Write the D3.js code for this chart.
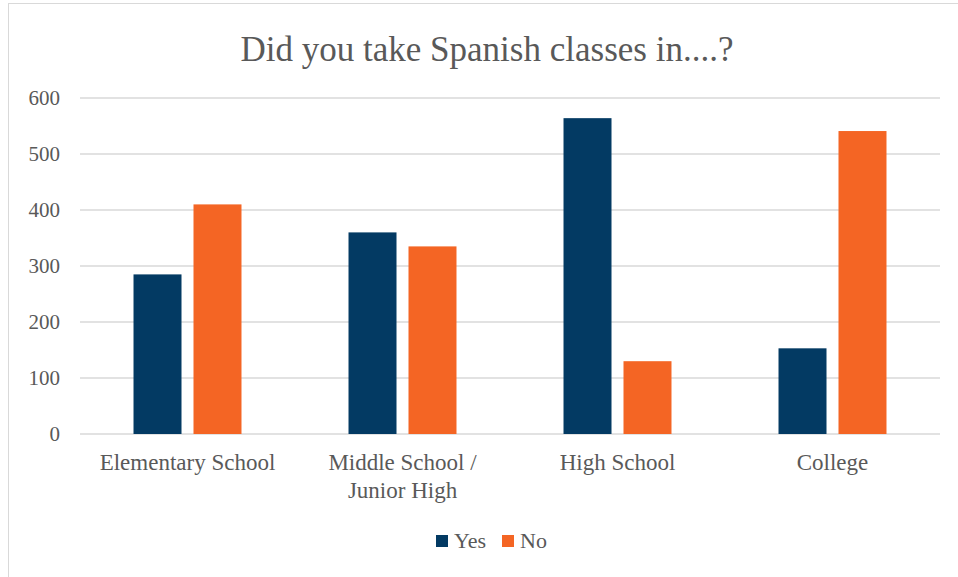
<!DOCTYPE html>
<html>
<head>
<meta charset="utf-8">
<script src="https://cdn.jsdelivr.net/npm/d3@7"></script>
<style>
  body { margin: 0; background: #fff; }
  text { font-family: "Liberation Serif", "Times New Roman", serif; fill: #595959; }
</style>
</head>
<body>
<div id="chart"></div>
<script>
// Data
const categories = ["Elementary School", "Middle School / Junior High", "High School", "College"];
const seriesNames = ["Yes", "No"];
const yesValues = [285, 360, 564, 153];
const noValues = [410, 335, 130, 541];
const yTicks = [0, 100, 200, 300, 400, 500, 600];
const colors = ["#033a63", "#f46524"];

const W = 958, H = 577;
const plot = { left: 80, right: 940, top: 98, bottom: 434 };

const svg = d3.select("#chart")
  .append("svg")
  .attr("width", W)
  .attr("height", H);

// outer chart border
svg.append("rect")
  .attr("x", 8.5).attr("y", 3.5)
  .attr("width", 960).attr("height", 600)
  .attr("fill", "none")
  .attr("stroke", "#d9d9d9");

// Title
svg.append("text")
  .attr("x", 487)
  .attr("y", 61)
  .attr("text-anchor", "middle")
  .style("font-size", "35px")
  .text("Did you take Spanish classes in....?");

const x0 = d3.scaleBand()
  .domain(categories)
  .range([plot.left, plot.right]);

const x1 = d3.scaleBand()
  .domain(seriesNames)
  .range([0, x0.bandwidth()])
  .paddingInner(0.2)
  .paddingOuter(0.892);

const y = d3.scaleLinear()
  .domain([0, 600])
  .range([plot.bottom, plot.top]);

// Gridlines
svg.append("g")
  .selectAll("line")
  .data(yTicks)
  .join("line")
  .attr("x1", plot.left).attr("x2", plot.right)
  .attr("y1", d => y(d)).attr("y2", d => y(d))
  .attr("stroke", "#d9d9d9")
  .attr("stroke-width", 1.3);

// Y axis labels
const yAxis = svg.append("g")
  .attr("transform", `translate(${plot.left},0)`)
  .call(d3.axisLeft(y).tickValues(yTicks).tickSize(0).tickPadding(20));
yAxis.select(".domain").remove();
yAxis.selectAll("text")
  .style("font-size", "21px")
  .attr("fill", "#595959");

// Bars
const rows = categories.map((c, i) => ({ cat: c, values: [yesValues[i], noValues[i]] }));

svg.append("g")
  .selectAll("g")
  .data(rows)
  .join("g")
  .attr("transform", d => `translate(${x0(d.cat)},0)`)
  .selectAll("rect")
  .data(d => d.values.map((v, j) => ({ key: seriesNames[j], value: v, j })))
  .join("rect")
  .attr("x", d => x1(d.key))
  .attr("y", d => y(d.value))
  .attr("width", x1.bandwidth())
  .attr("height", d => y(0) - y(d.value))
  .attr("fill", d => colors[d.j]);

// X axis labels (wrapped)
function wrapLabel(textSel, width) {
  textSel.each(function() {
    const t = d3.select(this);
    const words = t.text().split(/\s+/);
    t.text(null);
    let line = [];
    let tspan = t.append("tspan").attr("x", t.attr("x")).attr("dy", 0);
    words.forEach(w => {
      line.push(w);
      tspan.text(line.join(" "));
      if (tspan.node().getComputedTextLength() > width && line.length > 1) {
        line.pop();
        tspan.text(line.join(" "));
        line = [w];
        tspan = t.append("tspan").attr("x", t.attr("x")).attr("dy", "1.2em").text(w);
      }
    });
  });
}

svg.append("g")
  .selectAll("text")
  .data(categories)
  .join("text")
  .attr("x", d => x0(d) + x0.bandwidth() / 2)
  .attr("y", 470)
  .attr("text-anchor", "middle")
  .style("font-size", "23px")
  .text(d => d)
  .call(wrapLabel, 190);

// Legend
const legendX = [436, 502];
const legend = svg.append("g")
  .selectAll("g")
  .data(seriesNames)
  .join("g")
  .attr("transform", (d, i) => `translate(${legendX[i]},535)`);
legend.append("rect")
  .attr("width", 12).attr("height", 12)
  .attr("fill", (d, i) => colors[i]);
legend.append("text")
  .attr("x", 18)
  .attr("y", 13)
  .style("font-size", "22px")
  .text(d => d);
</script>
</body>
</html>
